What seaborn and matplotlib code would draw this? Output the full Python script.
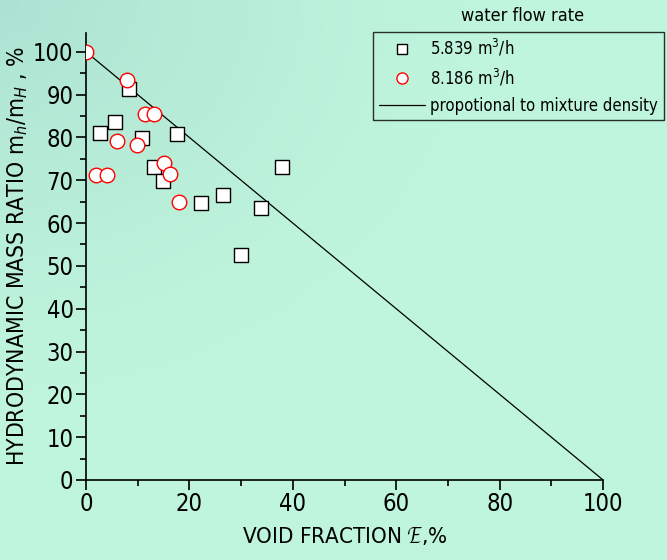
import numpy as np
import pandas as pd
import matplotlib
matplotlib.use('Agg')
import matplotlib.pyplot as plt
from matplotlib.lines import Line2D
import seaborn as sns

# data
void_a = [8.3, 2.7, 5.6, 10.8, 17.6, 13.2, 14.8, 22.2, 26.4, 33.8, 38.0, 30.0]
ratio_a = [91.3, 81.1, 83.6, 79.8, 80.8, 73.1, 69.9, 64.6, 66.6, 63.5, 73.1, 52.5]

void_b = [0.0, 8.0, 11.5, 13.2, 6.0, 9.8, 2.0, 4.1, 15.0, 16.3, 17.9]
ratio_b = [100.0, 93.4, 85.4, 85.4, 79.1, 78.2, 71.3, 71.3, 74.0, 71.5, 65.0]

line_x = [0, 100]
line_y = [100, 0]

labels = ['5.839 m$^3$/h', '8.186 m$^3$/h', 'propotional to mixture density']

sns.set_style('white')
plt.rcParams['font.family'] = ['DejaVu Sans']
plt.rcParams['font.stretch'] = 'condensed'
plt.rcParams['mathtext.fontset'] = 'custom'
plt.rcParams['mathtext.rm'] = 'DejaVu Sans:stretch=condensed'
plt.rcParams['mathtext.it'] = 'DejaVu Sans:italic:stretch=condensed'
plt.rcParams['text.color'] = 'black'
plt.rcParams['axes.labelcolor'] = 'black'
plt.rcParams['xtick.color'] = 'black'
plt.rcParams['ytick.color'] = 'black'

bg = '#bff5dc'
fig = plt.figure(figsize=(6.67, 5.6), dpi=100, facecolor=bg)

# soft background gradient (a bit darker toward top-left)
bgax = fig.add_axes([0, 0, 1, 1], zorder=-10)
yy, xx = np.mgrid[0:1:200j, 0:1:200j]
d = np.clip(1 - np.sqrt(xx**2 + yy**2) / 0.7, 0, 1) ** 1.3
c0 = np.array([191, 245, 220]) / 255
c1 = np.array([172, 226, 210]) / 255
img = c0[None, None, :] * (1 - d[..., None]) + c1[None, None, :] * d[..., None]
bgax.imshow(img, origin='upper', extent=[0, 1, 0, 1], aspect='auto')
bgax.axis('off')

ax = fig.add_axes([0.129, 0.143, 0.775, 0.798])
ax.set_facecolor('none')

df_a = pd.DataFrame({'x': void_a, 'y': ratio_a})
df_b = pd.DataFrame({'x': void_b, 'y': ratio_b})
df_l = pd.DataFrame({'x': line_x, 'y': line_y})

sns.lineplot(data=df_l, x='x', y='y', ax=ax, color='black', linewidth=0.9, zorder=2)
sns.scatterplot(data=df_a, x='x', y='y', ax=ax, marker='s', s=90, facecolor='white',
                edgecolor='black', linewidth=1.0, zorder=3)
sns.scatterplot(data=df_b, x='x', y='y', ax=ax, marker='o', s=110, facecolor='white',
                edgecolor='red', linewidth=1.0, zorder=4)

ax.set_xlim(0, 100)
ax.set_ylim(0, 104.4)
ax.set_xticks(range(0, 101, 20))
ax.set_xticks(range(10, 100, 20), minor=True)
ax.set_yticks(range(0, 101, 10))
ax.set_yticks(range(5, 101, 10), minor=True)
ax.tick_params(axis='both', which='major', direction='out', length=7, width=1.2,
               labelsize=17, color='black', left=True, bottom=True, pad=2)
ax.tick_params(axis='both', which='minor', direction='out', length=4, width=1.2,
               color='black', left=True, bottom=True)
for s in ['top', 'right']:
    ax.spines[s].set_visible(False)
for s in ['left', 'bottom']:
    ax.spines[s].set_color('black')
    ax.spines[s].set_linewidth(1.2)

ax.set_xlabel('VOID FRACTION $\\mathcal{E}$,%', fontsize=16, labelpad=6)
ax.set_ylabel('HYDRODYNAMIC MASS RATIO m$_h$/m$_H$ , %', fontsize=16.5, labelpad=2)

handles = [
    Line2D([], [], marker='s', linestyle='none', markersize=7, markerfacecolor='white',
           markeredgecolor='black', markeredgewidth=1.0),
    Line2D([], [], marker='o', linestyle='none', markersize=8, markerfacecolor='white',
           markeredgecolor='red', markeredgewidth=1.0),
    Line2D([], [], color='black', linewidth=0.9),
]
leg = fig.legend(handles, labels, loc='upper left', bbox_to_anchor=(0.559, 0.943),
                 fontsize=12, frameon=True, fancybox=False, borderpad=0.35,
                 labelspacing=0.5, handlelength=2.8, handletextpad=0.3,
                 borderaxespad=0)
leg.get_frame().set_edgecolor('black')
leg.get_frame().set_facecolor('none')
leg.get_frame().set_linewidth(1.0)

fig.text(0.784, 0.972, 'water flow rate', ha='center', va='center', fontsize=13)

fig.savefig('out.png', dpi=100, facecolor=bg)
